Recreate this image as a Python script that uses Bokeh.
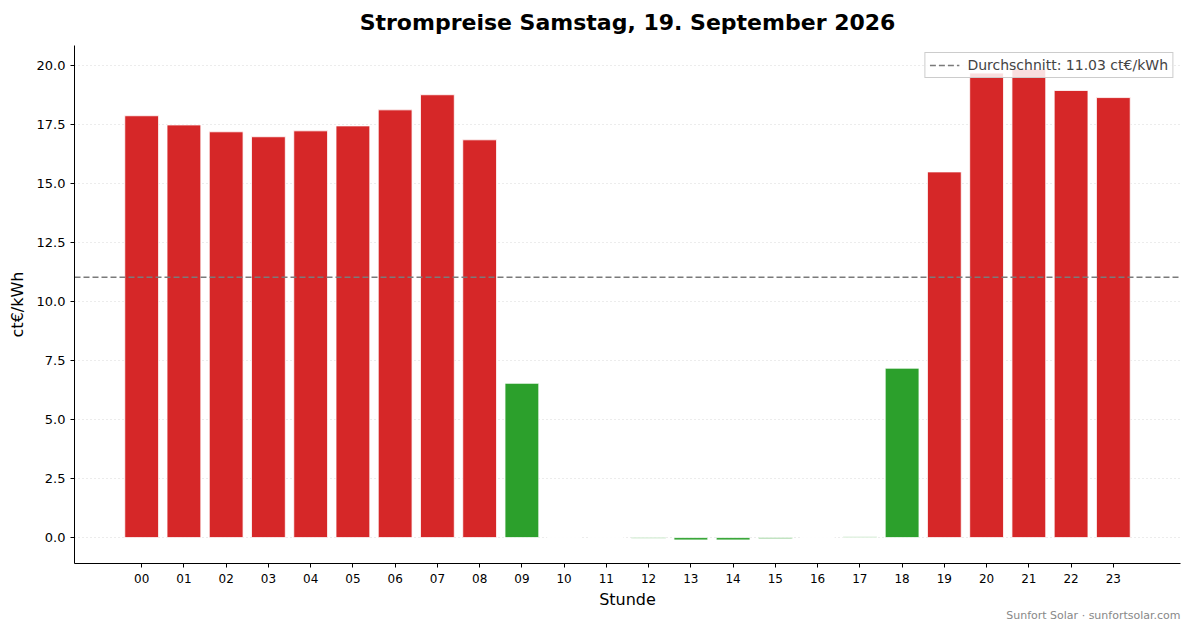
from bokeh.plotting import figure
from bokeh.models import Range1d, FixedTicker, Title, Legend, LegendItem, ColumnDataSource
from bokeh.embed import file_html
from bokeh.resources import INLINE

HOURS = ["%02d" % h for h in range(24)]
PRICES = [17.88, 17.49, 17.20, 16.99, 17.24, 17.45, 18.13, 18.77, 16.86, 6.54,
          0.00, 0.00, -0.04, -0.10, -0.10, -0.05, 0.00, 0.04, 7.18, 15.50,
          19.69, 19.86, 18.95, 18.65]
AVERAGE = 11.03
Y_TICKS = [0.0, 2.5, 5.0, 7.5, 10.0, 12.5, 15.0, 17.5, 20.0]

RED = "#d62728"
GREEN = "#2ca02c"
FONT = "DejaVu Sans"

xs = list(range(len(HOURS)))
colors = [RED if v > AVERAGE else GREEN for v in PRICES]

x_lo = -0.4 - 0.05 * 23.8
x_hi = 23.4 + 0.05 * 23.8
y_lo_data = min(0, min(PRICES))
y_hi_data = max(PRICES)
span = y_hi_data - y_lo_data
y_lo = y_lo_data - 0.05 * span
y_hi = y_hi_data + 0.05 * span

FRAME_W, FRAME_H = 1106, 518
p = figure(frame_width=FRAME_W, frame_height=FRAME_H, output_backend="svg", toolbar_location=None,
           x_range=Range1d(x_lo, x_hi), y_range=Range1d(y_lo, y_hi),
           min_border_left=0, min_border_right=5, min_border_top=37, min_border_bottom=0)

p.title.text = "Strompreise Samstag, 19. September 2026"
p.title.align = "center"
p.title.vertical_align = "top"
p.title.text_font = FONT
p.title.text_font_size = "22px"
p.title.text_font_style = "bold"
p.title.text_color = "black"
p.title.standoff = 18

src = ColumnDataSource(dict(x=xs, top=PRICES, color=colors))
p.vbar(x="x", top="top", bottom=0, width=0.8, fill_color="color",
       line_color="white", line_width=0.8, source=src)

avg_line = p.line(x=[x_lo, x_hi], y=[AVERAGE, AVERAGE], line_color="#7a7a7a",
                  line_width=1.5, line_dash="6 3")

legend = Legend(items=[LegendItem(label="Durchschnitt: %.2f ct€/kWh" % AVERAGE,
                                  renderers=[avg_line])],
                location="top_right")
legend.label_text_font = FONT
legend.label_text_font_size = "14px"
legend.border_line_color = "#cccccc"
legend.border_line_alpha = 1
legend.background_fill_alpha = 0.85
legend.margin = 7
legend.padding = 4
legend.spacing = 0
legend.glyph_width = 30
legend.glyph_height = 16
legend.label_standoff = 8
legend.label_height = 16
p.add_layout(legend, "center")

p.xaxis.ticker = FixedTicker(ticks=xs)
p.xaxis.major_label_overrides = {i: h for i, h in zip(xs, HOURS)}
p.yaxis.ticker = FixedTicker(ticks=Y_TICKS)
p.yaxis.major_label_overrides = {t: "%.1f" % t for t in Y_TICKS}

for ax in (p.xaxis[0], p.yaxis[0]):
    ax.axis_line_color = "black"
    ax.axis_line_width = 1
    ax.major_tick_line_color = "black"
    ax.major_tick_out = 4
    ax.major_tick_in = 0
    ax.minor_tick_line_color = None
    ax.major_label_text_font = FONT
    ax.axis_label_text_font = FONT
    ax.axis_label_text_font_style = "normal"
    ax.axis_label_text_font_size = "16px"
    ax.major_label_text_color = "black"
    ax.axis_label_text_color = "black"

p.xaxis.major_label_text_font_size = "12px"
p.yaxis.major_label_text_font_size = "13px"
p.xaxis.major_label_standoff = 6
p.xaxis.axis_label = "Stunde"
p.yaxis.axis_label = "ct€/kWh"
p.xaxis.axis_label_standoff = 4
p.yaxis.axis_label_standoff = 7

p.xgrid.grid_line_color = None
p.ygrid.grid_line_color = "#d9d9d9"
p.ygrid.grid_line_dash = "1 3"
p.ygrid.grid_line_width = 1
p.outline_line_color = None

left_spacer = Title(text=" ", text_font_size="4px", standoff=-3)
p.add_layout(left_spacer, "left")

footer = Title(text="Sunfort Solar · sunfortsolar.com", align="right",
               text_font=FONT, text_font_size="11px", text_color="#888888",
               text_font_style="normal", standoff=-9)
p.add_layout(footer, "below")
spacer = Title(text=" ", text_font_size="5px", standoff=0)
p.add_layout(spacer, "below")

open("out.html", "w").write(file_html(p, INLINE))
